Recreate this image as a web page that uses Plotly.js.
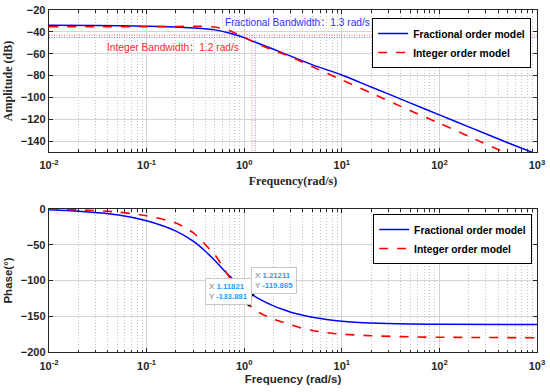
<!DOCTYPE html>
<html>
<head>
<meta charset="utf-8">
<script src="https://cdn.plot.ly/plotly-3.0.1.min.js"></script>
<style>html,body{margin:0;padding:0;background:#fff;}#chart{width:550px;height:392px;}</style>
</head>
<body>
<div id="chart"></div>
<script>
// ---- data ----
const freq      = [0.01, 0.03, 0.1, 0.2, 0.3, 0.5, 0.7, 1, 1.2, 1.5, 2, 3, 5, 10, 20, 50, 100, 200, 500, 1000];
const magFrac   = [-34.0, -34.2, -34.8, -35.6, -36.5, -38.2, -41.0, -45.3, -48.3, -51.6, -56.0, -62.2, -70.2, -79.5, -90.5, -105, -116, -127, -141.5, -152];
const magInt    = [-35.4, -35.4, -35.3, -35.1, -34.9, -35.6, -38.8, -45.0, -48.6, -52.6, -57.0, -62.8, -72.0, -84.0, -96.0, -112, -123.7, -135.7, -151.7, -163.7];
const phaseFreq = [0.01, 0.02, 0.05, 0.1, 0.2, 0.3, 0.4, 0.5, 0.7, 1, 1.21211, 1.5, 2, 2.5, 3, 4, 5, 7, 10, 20, 50, 100, 1000];
const phaseFrac = [-1.0, -3.0, -8.0, -16.5, -31, -45, -59, -72, -93, -111, -119.865, -127.5, -135.5, -140.6, -144.3, -148.6, -151.5, -154.6, -157, -159.6, -161, -161.3, -161.5];
const phaseFreqInt = [0.01, 0.02, 0.05, 0.1, 0.2, 0.3, 0.4, 0.5, 0.6, 0.7, 0.85, 1, 1.11821, 1.45, 2, 2.5, 3, 4, 5, 7, 10, 20, 50, 100, 1000];
const phaseInt  = [0, -1.2, -4.2, -9.5, -19.7, -33, -50, -64, -80, -95, -112, -125, -133.881, -145.5, -154, -158.5, -162, -167, -170, -173, -175, -177.3, -178.8, -179.4, -180];
const bwFrac = 1.3, bwFracLevel = -45.1;
const bwInt = 1.2, bwIntLevel = -43.0;
const tipX = [1.11821, 1.21211];
const tipY = [-133.881, -119.865];
const xTickVals = [0.01, 0.1, 1, 10, 100, 1000];
const xTickText = ['10<sup>-2</sup>','10<sup>-1</sup>','10<sup>0</sup>','10<sup>1</sup>','10<sup>2</sup>','10<sup>3</sup>'];
const names = ['Fractional order model', 'Integer order model'];

const BLUE = 'rgb(0,0,255)', RED = 'rgb(255,0,0)';
const SANS = 'Liberation Sans, Arial, Noto Sans CJK SC, sans-serif';
const SERIF = 'Liberation Serif, Times New Roman, serif';
const DARK = '#262626';
const xRange = [freq[0], freq[freq.length-1]];

const traces = [
  {x: [xRange[0], xRange[1]], y: [bwIntLevel, bwIntLevel], xaxis:'x', yaxis:'y', mode:'lines', showlegend:false, hoverinfo:'skip',
   line:{color:'rgb(255,110,110)', width:1, dash:'1px,1.5px'}},
  {x: [xRange[0], xRange[1]], y: [bwFracLevel, bwFracLevel], xaxis:'x', yaxis:'y', mode:'lines', showlegend:false, hoverinfo:'skip',
   line:{color:'rgb(110,110,255)', width:1, dash:'1px,1.5px'}},
  {x: [bwInt, bwInt], y: [bwIntLevel, -150], xaxis:'x', yaxis:'y', mode:'lines', showlegend:false, hoverinfo:'skip',
   line:{color:'rgb(255,130,130)', width:1, dash:'1px,1.5px'}},
  {x: [bwFrac, bwFrac], y: [bwFracLevel, -150], xaxis:'x', yaxis:'y', mode:'lines', showlegend:false, hoverinfo:'skip',
   line:{color:'rgb(130,130,255)', width:1, dash:'1px,1.5px'}},
  {x: freq, y: magFrac, xaxis:'x', yaxis:'y', mode:'lines', name:names[0], legend:'legend',
   line:{color:BLUE, width:1.5, shape:'spline', smoothing:0.7}},
  {x: freq, y: magInt, xaxis:'x', yaxis:'y', mode:'lines', name:names[1], legend:'legend',
   line:{color:RED, width:1.6, dash:'dash', shape:'spline', smoothing:0.7}},
  {x: phaseFreq, y: phaseFrac, xaxis:'x2', yaxis:'y2', mode:'lines', name:names[0], legend:'legend2',
   line:{color:BLUE, width:1.5, shape:'spline', smoothing:0.7}},
  {x: phaseFreqInt, y: phaseInt, xaxis:'x2', yaxis:'y2', mode:'lines', name:names[1], legend:'legend2',
   line:{color:RED, width:1.6, dash:'dash', shape:'spline', smoothing:0.7}},
  {x: tipX, y: tipY, xaxis:'x2', yaxis:'y2', mode:'markers', showlegend:false, hoverinfo:'skip',
   marker:{color:'#000', size:3.5}}
];

function xAxis(anchor, titleText, titleFont, standoff) {
  return {
    type:'log', range:[Math.log10(xRange[0]), Math.log10(xRange[1])], anchor: anchor,
    tickmode:'array', tickvals:xTickVals, ticktext:xTickText,
    ticks:'inside', ticklen:4, tickcolor:DARK, tickwidth:1, ticklabelstandoff:3,
    showline:true, linecolor:DARK, linewidth:1.3, mirror:'ticks',
    showgrid:true, gridcolor:'#d4d4d4', gridwidth:1,
    minor:{dtick:'D1', ticks:'inside', ticklen:2.5, tickcolor:DARK, showgrid:true, gridcolor:'#c4c4c4', griddash:'1px,2px', gridwidth:1},
    tickfont:{family:SANS, size:11, color:DARK, weight:'bold'},
    title:{text:titleText, font:titleFont, standoff:standoff},
    zeroline:false
  };
}
function yAxis(domain, range, dtick, titleText, titleFont) {
  return {
    domain: domain, range: range, dtick: dtick, tick0: 0,
    ticks:'inside', ticklen:4, tickcolor:DARK, tickwidth:1,
    showline:true, linecolor:DARK, linewidth:1.3, mirror:'ticks',
    showgrid:true, gridcolor:'#d4d4d4', gridwidth:1, zeroline:false,
    tickfont:{family:SANS, size:11, color:DARK, weight:'bold'},
    title:{text:titleText, font:titleFont, standoff:5}
  };
}

const layout = {
  width:550, height:392,
  margin:{l:49, r:13, t:10, b:40},
  paper_bgcolor:'#fff', plot_bgcolor:'#fff',
  showlegend:true,
  xaxis: xAxis('y', 'Frequency(rad/s)', {family:SERIF, size:12, color:DARK, weight:'bold'}, 6),
  yaxis: yAxis([0.5848, 1], [-150, -20], 20, 'Amplitude (dB)', {family:SERIF, size:12, color:DARK, weight:'bold'}),
  xaxis2: xAxis('y2', 'Frequency (rad/s)', {family:SANS, size:11.5, color:DARK, weight:'bold'}, 4),
  yaxis2: yAxis([0, 0.4181], [-200, 0], 50, 'Phase(°)', {family:SANS, size:11.5, color:DARK, weight:'bold'}),
  legend:{x:0.988, y:0.9766, xanchor:'right', yanchor:'top', bgcolor:'#fff', bordercolor:'#000', borderwidth:1,
          font:{family:SANS, size:10.3, color:'#000', weight:'bold'}, itemwidth:30, tracegroupgap:0},
  legend2:{x:0.99, y:0.4035, xanchor:'right', yanchor:'top', bgcolor:'#fff', bordercolor:'#000', borderwidth:1,
          font:{family:SANS, size:10.3, color:'#000', weight:'bold'}, itemwidth:30, tracegroupgap:0},
  annotations:[
    {xref:'paper', yref:'paper', x:0.3566, y:0.9649, xanchor:'left', yanchor:'middle', showarrow:false,
     text:'Fractional Bandwidth：1.3 rad/s', font:{family:SANS, size:10.2, color:'rgb(50,50,255)'}},
    {xref:'paper', yref:'paper', x:0.1148, y:0.8918, xanchor:'left', yanchor:'middle', showarrow:false,
     text:'Integer Bandwidth：1.2 rad/s', font:{family:SANS, size:10.2, color:'rgb(255,40,40)'}},
    {xref:'x2', yref:'y2', x:Math.log10(tipX[0]), y:tipY[0], xshift:-20.5, yshift:13.5, showarrow:false, align:'left',
     text:'<span style="color:#777">X</span> <b>' + tipX[0] + '</b><br><span style="color:#777">Y</span> <b>' + tipY[0] + '</b>',
     font:{family:SANS, size:7.8, color:'#1a9fff'}, bgcolor:'#fff', bordercolor:'#c8c8c8', borderwidth:1, borderpad:3},
    {xref:'x2', yref:'y2', x:Math.log10(tipX[1]), y:tipY[1], xshift:22, yshift:14.5, showarrow:false, align:'left',
     text:'<span style="color:#777">X</span> <b>' + tipX[1] + '</b><br><span style="color:#777">Y</span> <b>' + tipY[1] + '</b>',
     font:{family:SANS, size:7.8, color:'#1a9fff'}, bgcolor:'#fff', bordercolor:'#c8c8c8', borderwidth:1, borderpad:3}
  ]
};

Plotly.newPlot('chart', traces, layout, {displayModeBar:false, staticPlot:true});
</script>
</body>
</html>
